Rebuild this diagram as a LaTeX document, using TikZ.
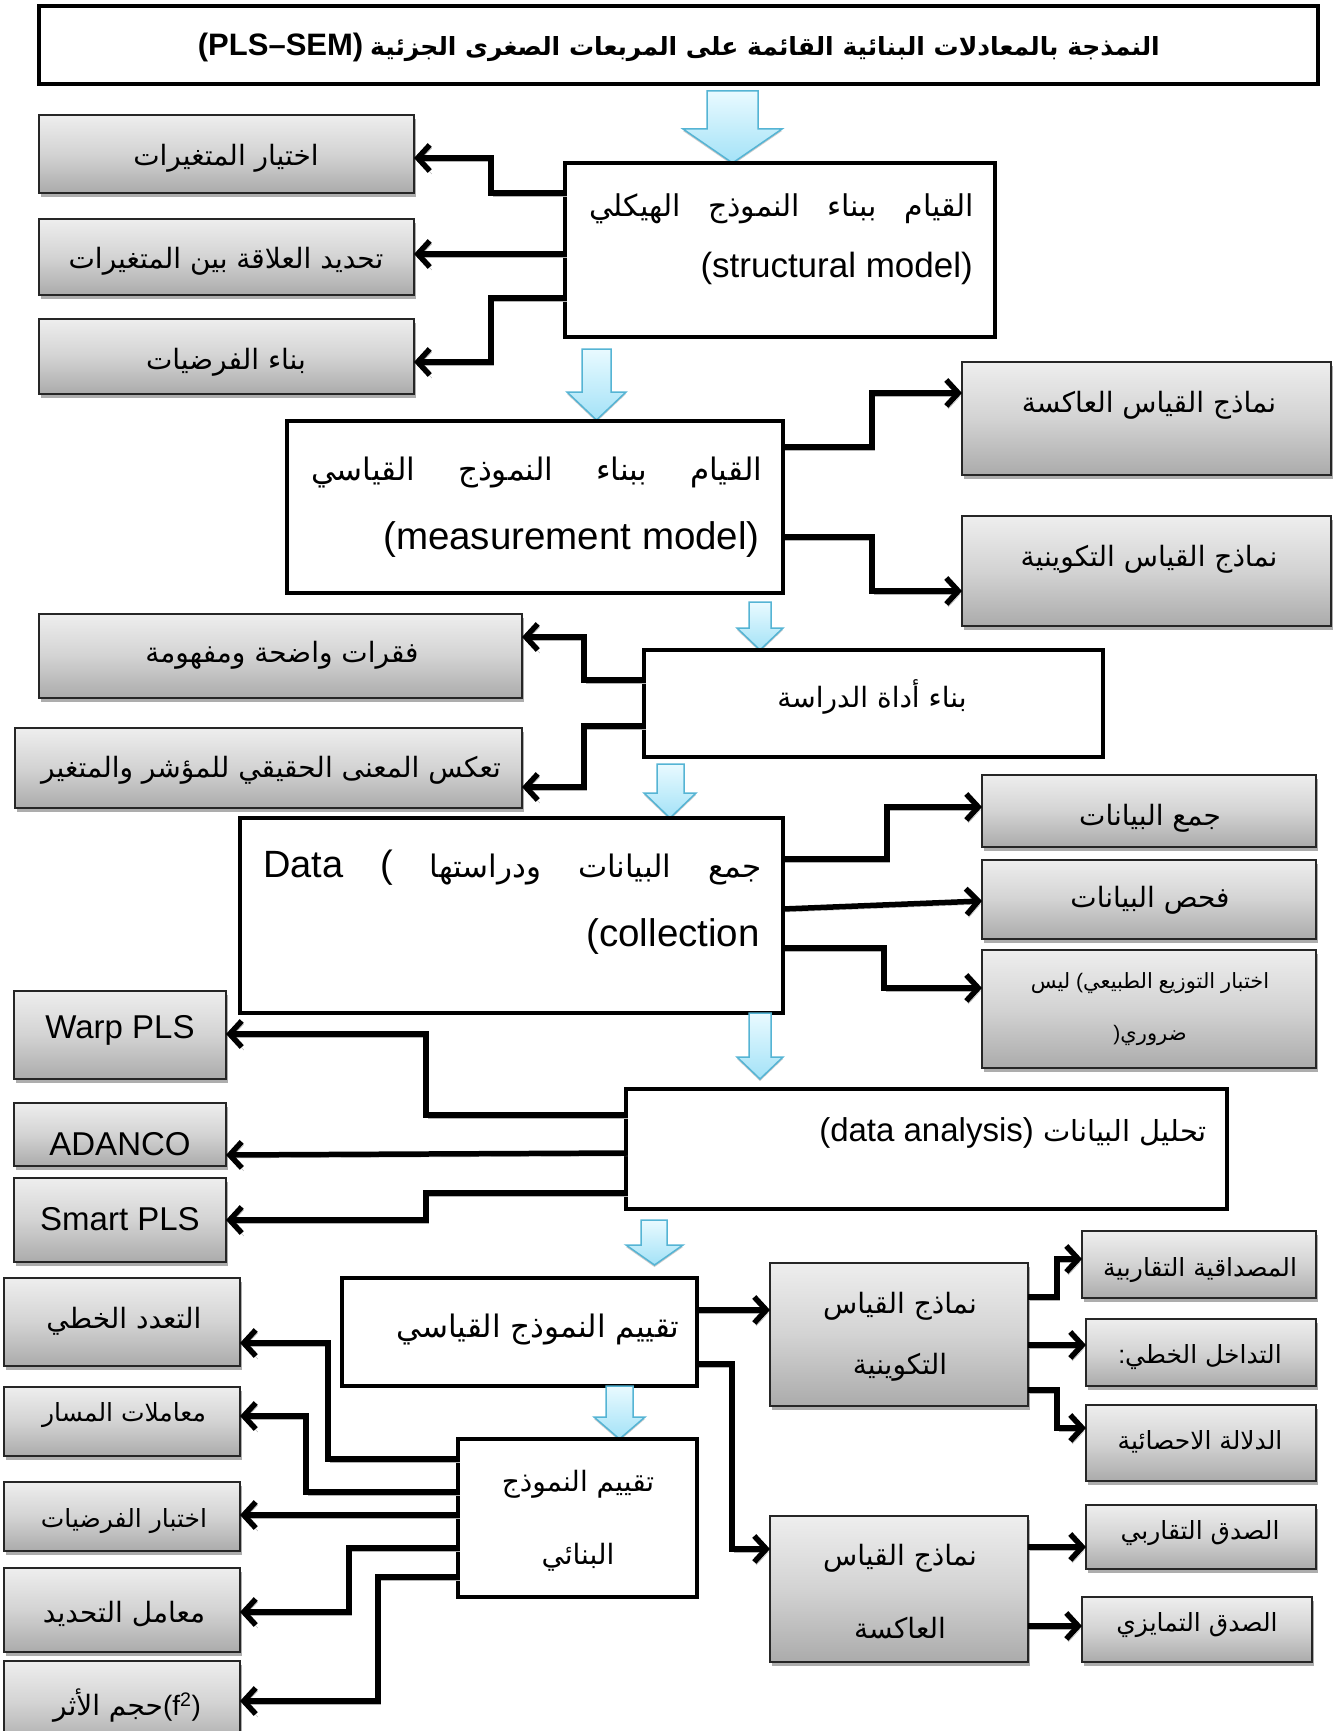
\documentclass[tikz,border=0pt]{standalone}
\usepackage{fontspec}
\setmainfont{Liberation Sans}
\newfontfamily\arabicfont[Script=Arabic]{DejaVu Sans}
\TeXXeTstate=1
\usetikzlibrary{arrows.meta,shadows}

\newcommand{\artext}[1]{{\arabicfont\beginR #1\endR}}
\newcommand{\wbox}[5]{\node[whitebox, minimum width={#4-#2}, minimum height={#5-#3}] (#1) at (#2,#3) {};}
\newcommand{\gbox}[5]{\node[graybox, minimum width={#4-#2}, minimum height={#5-#3}] (#1) at (#2,#3) {};}
% block arrow: shaft left/right, top, head left/right, head start, tip
\newcommand{\barrow}[7]{\draw[blockarrow] (#1,#3) -- (#2,#3) -- (#2,#6) -- (#5,#6) -- ({(#4+#5)/2},#7) -- (#4,#6) -- (#1,#6) -- cycle;}

\definecolor{gtop}{HTML}{EEEEEE}
\definecolor{gmid}{HTML}{D3D3D3}
\definecolor{gbot}{HTML}{ABABAB}
\definecolor{btop}{HTML}{E9FAFF}
\definecolor{bbot}{HTML}{A3E2F7}
\definecolor{bedge}{HTML}{55B4D4}

\tikzset{
  whitebox/.style={draw=black, line width=4.5pt, fill=white, inner sep=0pt, outer sep=0pt, anchor=north west},
  graybox/.style={draw=black!85, line width=1.8pt, top color=gtop, bottom color=gbot, middle color=gmid,
    inner sep=0pt, outer sep=0pt, anchor=north west,
    drop shadow={shadow xshift=2pt, shadow yshift=-4pt, fill=black!40, opacity=0.8}},
  conn/.style={line width=5.5pt, -{Straight Barb[length=12pt,width=26pt]},
    preaction={draw=black!30, transform canvas={shift={(2pt,-3pt)}}}},
  blockarrow/.style={draw=bedge, line width=1.5pt, top color=btop, bottom color=bbot,
    drop shadow={shadow xshift=0pt, shadow yshift=-2pt, fill=black!40, opacity=0.5}},
  txt/.style={inner sep=0pt, font=\fontsize{28}{33}\selectfont},
  small/.style={inner sep=0pt, font=\fontsize{25}{30}\selectfont},
  tiny/.style={inner sep=0pt, font=\fontsize{21}{25}\selectfont},
  mid/.style={inner sep=0pt, font=\fontsize{30}{36}\selectfont},
  big/.style={inner sep=0pt, font=\fontsize{31}{37}\selectfont},
  latsm/.style={inner sep=0pt, font=\fontsize{33}{38}\selectfont},
  latmid/.style={inner sep=0pt, font=\fontsize{35}{41}\selectfont},
  latbig/.style={inner sep=0pt, font=\fontsize{38.5}{45}\selectfont},
  titletxt/.style={inner sep=0pt, font=\fontsize{25}{30}\selectfont\bfseries},
}

\begin{document}
\begin{tikzpicture}[x=1pt,y=-1pt]
\fill[white] (0,0) rectangle (1333,1731);
\useasboundingbox (0,0) rectangle (1333,1731);

% ---------- title ----------
\wbox{title}{39}{6}{1318}{84}
\node[titletxt] (titlet) at (679,47) {{\fontsize{31}{36}\selectfont(PLS–SEM)} \artext{النمذجة بالمعادلات البنائية القائمة على المربعات الصغرى الجزئية}};

% ---------- structural model ----------
\barrow{707}{758}{91}{683}{782}{129}{163}
\wbox{sb}{565}{163}{995}{337}
\node[mid] (sbl1) at (781.5,209) {\hbox to 385pt{\artext{الهيكلي}\hfill\artext{النموذج}\hfill\artext{ببناء}\hfill\artext{القيام}}};
\node[latmid, anchor=east] (sbl2) at (973,268) {(structural model)};

\gbox{v1}{39}{115}{414}{193}
\node[txt] (v1t) at (226,158) {\artext{اختيار المتغيرات}};
\gbox{v2}{39}{219}{414}{295}
\node[txt] (v2t) at (226,261) {\artext{تحديد العلاقة بين المتغيرات}};
\gbox{v3}{39}{319}{414}{394}
\node[txt] (v3t) at (226,362) {\artext{بناء الفرضيات}};

\draw[conn] (sb.west |- 0,193) -- (491,193) |- (v1.east |- 0,158);
\draw[conn] (sb.west |- 0,254) -- (v2.east |- 0,254);
\draw[conn] (sb.west |- 0,298) -- (491,298) |- (v3.east |- 0,362);

% ---------- measurement model ----------
\barrow{582}{611}{349}{567}{626}{392}{420}
\wbox{mb}{287}{421}{783}{593}
\node[big] (mbl1) at (536.5,473) {\hbox to 451pt{\artext{القياسي}\hfill\artext{النموذج}\hfill\artext{ببناء}\hfill\artext{القيام}}};
\node[latbig, anchor=east] (mbl2) at (760,540) {(measurement model)};

\gbox{r1}{962}{362}{1331}{475}
\node[txt] (r1t) at (1149,405) {\artext{نماذج القياس العاكسة}};
\gbox{r2}{962}{516}{1331}{626}
\node[txt] (r2t) at (1149,559) {\artext{نماذج القياس التكوينية}};

\draw[conn] (mb.east |- 0,447) -- (872,447) |- (r1.west |- 0,393);
\draw[conn] (mb.east |- 0,537) -- (872,537) |- (r2.west |- 0,591);

% ---------- study instrument ----------
\barrow{749}{771}{602}{737}{783}{628}{650}
\wbox{ib}{644}{650}{1103}{757}
\node[txt] (ibt) at (872,697) {\artext{بناء أداة الدراسة}};

\gbox{q1}{39}{614}{522}{698}
\node[txt] (q1t) at (282,655) {\artext{فقرات واضحة ومفهومة}};
\gbox{q2}{15}{728}{522}{808}
\node[txt] (q2t) at (271,770) {\artext{تعكس المعنى الحقيقي للمؤشر والمتغير}};

\draw[conn] (ib.west |- 0,680) -- (584,680) |- (q1.east |- 0,637);
\draw[conn] (ib.west |- 0,726) -- (584,726) |- (q2.east |- 0,787);

% ---------- data collection ----------
\barrow{657}{684}{764}{644}{696}{793}{818}
\wbox{db}{240}{818}{783}{1013}
\node[big] (dbl1) at (512.5,868) {\hbox to 499pt{{\fontsize{38}{44}\selectfont Data}\hfill{\fontsize{38}{44}\selectfont (}\hfill\artext{ودراستها}\hfill\artext{البيانات}\hfill\artext{جمع}}};
\node[latbig, anchor=east] (dbl2) at (760,937) {(collection};

\gbox{c1}{982}{775}{1316}{847}
\node[txt] (c1t) at (1150,818) {\artext{جمع البيانات}};
\gbox{c2}{982}{860}{1316}{939}
\node[txt] (c2t) at (1150,900) {\artext{فحص البيانات}};
\gbox{c3}{982}{950}{1316}{1068}
\node[tiny] (c3l1) at (1150,983) {\artext{ليس} (\artext{الطبيعي} \artext{التوزيع} \artext{اختبار}};
\node[tiny] (c3l2) at (1150,1035) {)\artext{ضروري}};

\draw[conn] (db.east |- 0,859) -- (887,859) |- (c1.west |- 0,807);
\draw[conn] (db.east |- 0,909) -- (c2.west |- 0,901);
\draw[conn] (db.east |- 0,948) -- (884,948) |- (c3.west |- 0,988);

% ---------- data analysis ----------
\barrow{749}{771}{1013}{737}{783}{1057}{1079}
\wbox{ab}{626}{1089}{1227}{1209}
\node[latsm, anchor=east] (abt) at (1207,1133) {(data analysis) \artext{\fontsize{29}{34}\selectfont تحليل البيانات}};

\gbox{s1}{14}{991}{226}{1079}
\node[latsm] (s1t) at (120,1030) {Warp PLS};
\gbox{s2}{14}{1103}{226}{1166}
\node[latsm] (s2t) at (120,1144) {ADANCO};
\gbox{s3}{14}{1178}{226}{1262}
\node[latsm] (s3t) at (120,1219) {Smart PLS};

\draw[conn] (ab.west |- 0,1115) -- (426,1115) |- (s1.east |- 0,1034);
\draw[conn] (ab.west |- 0,1153) -- (s2.east |- 0,1155);
\draw[conn] (ab.west |- 0,1193) -- (426,1193) |- (s3.east |- 0,1220);

% ---------- measurement model evaluation ----------
\barrow{641}{667}{1220}{626}{683}{1245}{1265}
\wbox{me}{342}{1278}{697}{1386}
\node[big] (met) at (538,1329) {\artext{تقييم النموذج القياسي}};

\gbox{fb}{770}{1263}{1028}{1406}
\node[txt] (fbl1) at (900,1306) {\artext{نماذج القياس}};
\node[txt] (fbl2) at (900,1367) {\artext{التكوينية}};
\gbox{rb}{770}{1516}{1028}{1662}
\node[txt] (rbl1) at (900,1558) {\artext{نماذج القياس}};
\node[txt] (rbl2) at (900,1628) {\artext{العاكسة}};

\draw[conn] (me.east |- 0,1310) -- (fb.west |- 0,1310);
\draw[conn] (me.east |- 0,1364) -- (732,1364) |- (rb.west |- 0,1549);

\gbox{f1}{1082}{1231}{1316}{1298}
\node[small] (f1t) at (1200,1270) {\artext{المصداقية التقاربية}};
\gbox{f2}{1086}{1319}{1316}{1386}
\node[small] (f2t) at (1200,1357) {:\artext{التداخل الخطي}};
\gbox{f3}{1086}{1405}{1316}{1481}
\node[small] (f3t) at (1200,1442) {\artext{الدلالة الاحصائية}};
\gbox{g1}{1086}{1505}{1316}{1569}
\node[small] (g1t) at (1200,1533) {\artext{الصدق التقاربي}};
\gbox{g2}{1082}{1597}{1312}{1662}
\node[small] (g2t) at (1197,1625) {\artext{الصدق التمايزي}};

\draw[conn] (fb.east |- 0,1297) -- (1057,1297) |- (f1.west |- 0,1259);
\draw[conn] (fb.east |- 0,1345) -- (f2.west |- 0,1345);
\draw[conn] (fb.east |- 0,1390) -- (1057,1390) |- (f3.west |- 0,1428);
\draw[conn] (rb.east |- 0,1547) -- (g1.west |- 0,1547);
\draw[conn] (rb.east |- 0,1626) -- (g2.west |- 0,1626);

% ---------- structural model evaluation ----------
\barrow{606}{633}{1386}{594}{645}{1417}{1439}
\wbox{se}{458}{1439}{697}{1597}
\node[txt] (sel1) at (578,1484) {\artext{تقييم النموذج}};
\node[txt] (sel2) at (578,1557) {\artext{البنائي}};

\gbox{h1}{4}{1278}{240}{1366}
\node[txt] (h1t) at (124,1321) {\artext{التعدد الخطي}};
\gbox{h2}{4}{1387}{240}{1456}
\node[small] (h2t) at (124,1415) {\artext{معاملات المسار}};
\gbox{h3}{4}{1482}{240}{1551}
\node[small] (h3t) at (124,1521) {\artext{اختبار الفرضيات}};
\gbox{h4}{4}{1568}{240}{1652}
\node[txt] (h4t) at (124,1614) {\artext{معامل التحديد}};
\gbox{h5}{4}{1661}{240}{1745}
\node[txt] (h5t) at (127,1706) {\artext{حجم الأثر}(f\textsuperscript{2})};

\draw[conn] (se.west |- 0,1459) -- (328,1459) |- (h1.east |- 0,1343);
\draw[conn] (se.west |- 0,1492) -- (306,1492) |- (h2.east |- 0,1416);
\draw[conn] (se.west |- 0,1515) -- (h3.east |- 0,1515);
\draw[conn] (se.west |- 0,1548) -- (349,1548) |- (h4.east |- 0,1612);
\draw[conn] (se.west |- 0,1577) -- (378,1577) |- (h5.east |- 0,1701);
\end{tikzpicture}
\end{document}
